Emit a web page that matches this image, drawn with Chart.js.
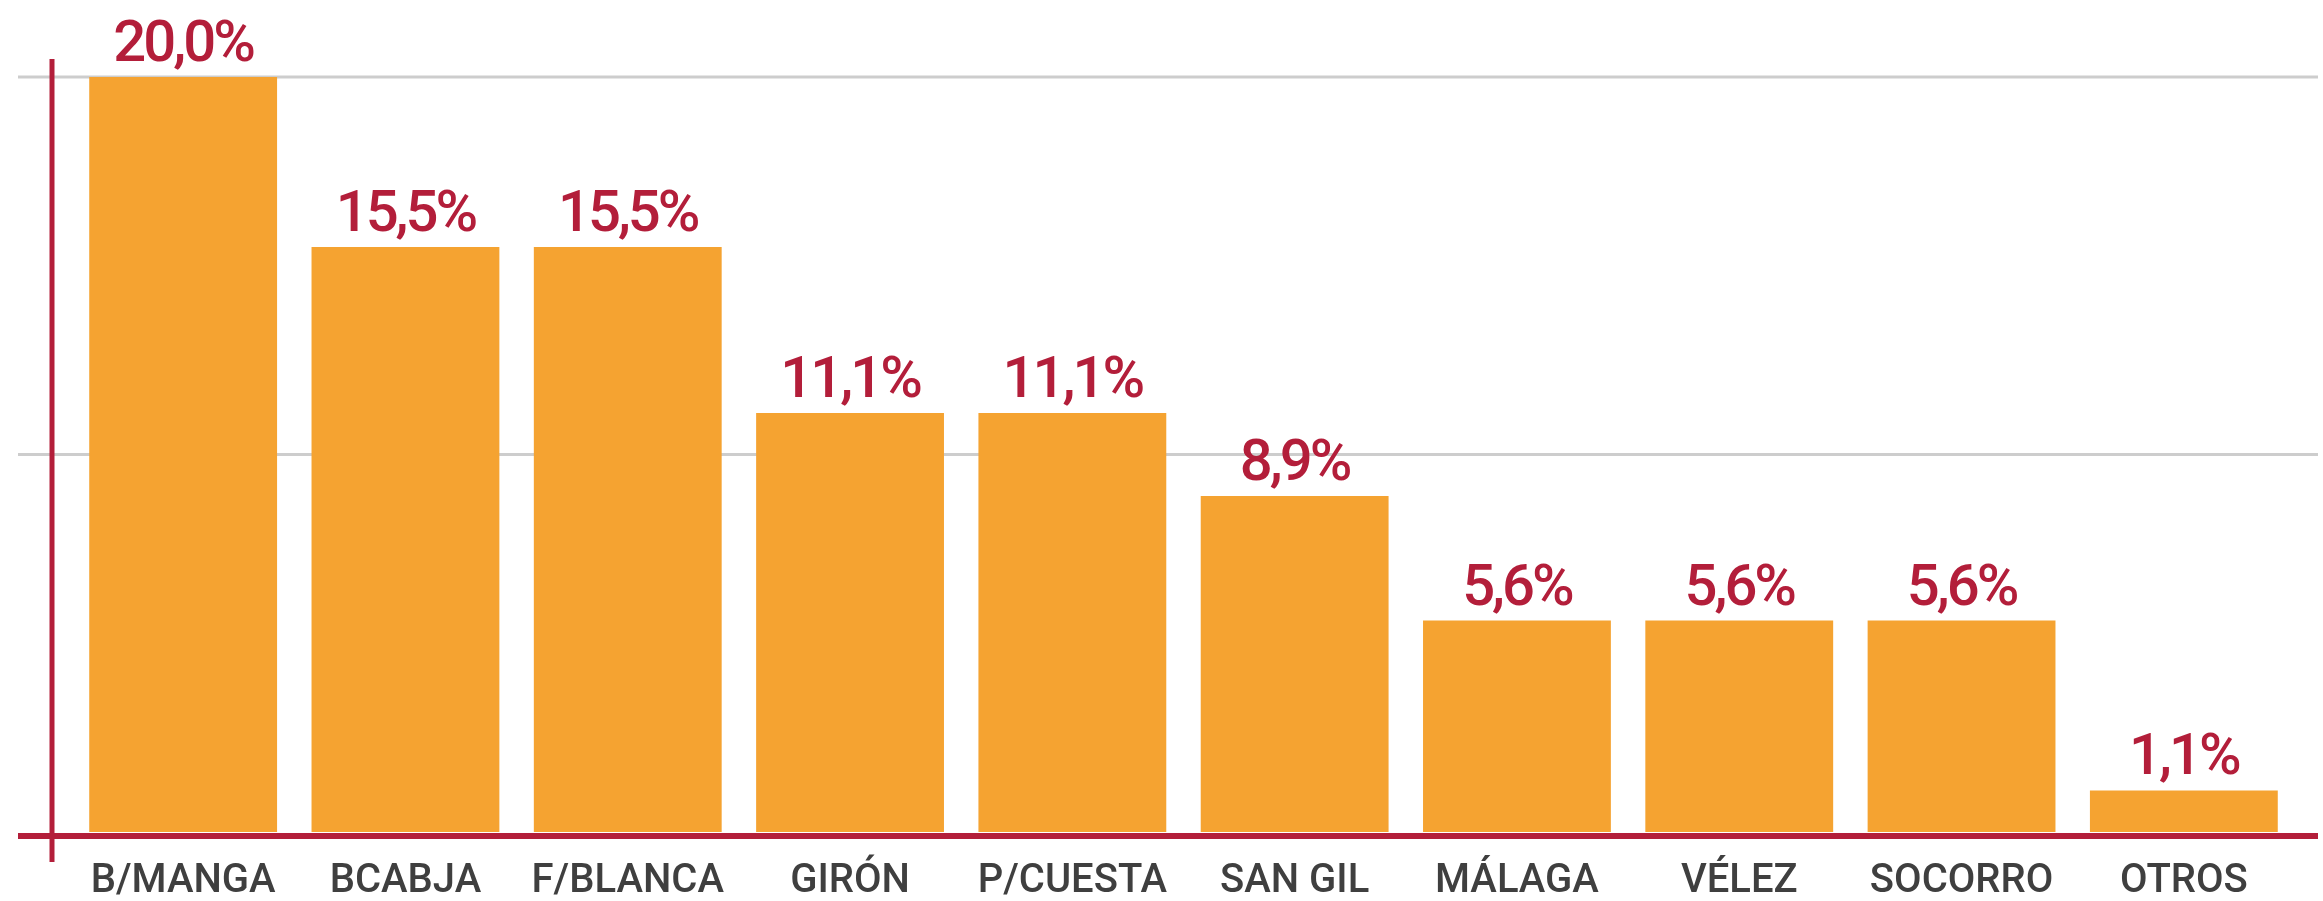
<!DOCTYPE html>
<html>
<head>
<meta charset="utf-8">
<script src="https://cdn.jsdelivr.net/npm/chart.js@4.4.1/dist/chart.umd.min.js"></script>
<style>
  html, body { margin: 0; padding: 0; background: #ffffff; }
  #wrap { width: 2323px; height: 901px; }
</style>
</head>
<body>
<div id="wrap"><canvas id="c" width="2323" height="901"></canvas></div>
<script>
const categories = ['B/MANGA', 'BCABJA', 'F/BLANCA', 'GIRÓN', 'P/CUESTA', 'SAN GIL', 'MÁLAGA', 'VÉLEZ', 'SOCORRO', 'OTROS'];
const values = [20.0, 15.5, 15.5, 11.1, 11.1, 8.9, 5.6, 5.6, 5.6, 1.1];
const gridValues = [10, 20];

const BAR_COLOR = '#F5A331';
const RED = '#B31E3A';
const GRID = '#CDCDCD';
const TEXT_GRAY = '#3F3F3F';

const fmt = v => v.toFixed(1).replace('.', ',') + '%';

const decor = {
  id: 'decor',
  beforeDatasetsDraw(chart) {
    const ctx = chart.ctx, ca = chart.chartArea, y = chart.scales.y;
    ctx.save();
    ctx.strokeStyle = GRID;
    ctx.lineWidth = 3;
    gridValues.forEach(v => {
      const py = y.getPixelForValue(v);
      ctx.beginPath();
      ctx.moveTo(ca.left - 54, py);
      ctx.lineTo(ca.right + 23, py);
      ctx.stroke();
    });
    ctx.restore();
  },
  afterDatasetsDraw(chart) {
    const ctx = chart.ctx, ca = chart.chartArea, y = chart.scales.y;
    const y0 = y.getPixelForValue(0);
    ctx.save();
    ctx.strokeStyle = RED;
    ctx.lineWidth = 6;
    ctx.beginPath();
    ctx.moveTo(ca.left - 54, y0 + 4);
    ctx.lineTo(ca.right + 23, y0 + 4);
    ctx.stroke();
    ctx.lineWidth = 5;
    ctx.beginPath();
    ctx.moveTo(ca.left - 20, y.getPixelForValue(20) - 18);
    ctx.lineTo(ca.left - 20, y0 + 30);
    ctx.stroke();
    // value labels
    const meta = chart.getDatasetMeta(0);
    ctx.fillStyle = RED;
    ctx.font = '500 58px Roboto';
    ctx.letterSpacing = '-3px';
    ctx.textAlign = 'center';
    ctx.textBaseline = 'alphabetic';
    meta.data.forEach((bar, i) => {
      ctx.fillText(fmt(values[i]), bar.x, bar.y - 16);
    });
    ctx.restore();
  }
};

new Chart(document.getElementById('c'), {
  type: 'bar',
  data: {
    labels: categories,
    datasets: [{
      data: values,
      backgroundColor: BAR_COLOR,
      borderWidth: 0,
      categoryPercentage: 1.0,
      barPercentage: 0.845
    }]
  },
  options: {
    responsive: false,
    animation: false,
    devicePixelRatio: 1,
    layout: { padding: { left: 72, right: 28, top: 77, bottom: 0 } },
    plugins: { legend: { display: false }, tooltip: { enabled: false }, title: { display: false } },
    scales: {
      x: {
        grid: { display: false },
        border: { display: false },
        afterFit(scale) { scale.height = 69; },
        ticks: {
          color: TEXT_GRAY,
          font: { family: 'Roboto', size: 40, weight: '500' },
          padding: 18,
          maxRotation: 0,
          autoSkip: false
        }
      },
      y: {
        display: false,
        min: 0,
        max: 20
      }
    }
  },
  plugins: [decor]
});
</script>
</body>
</html>
